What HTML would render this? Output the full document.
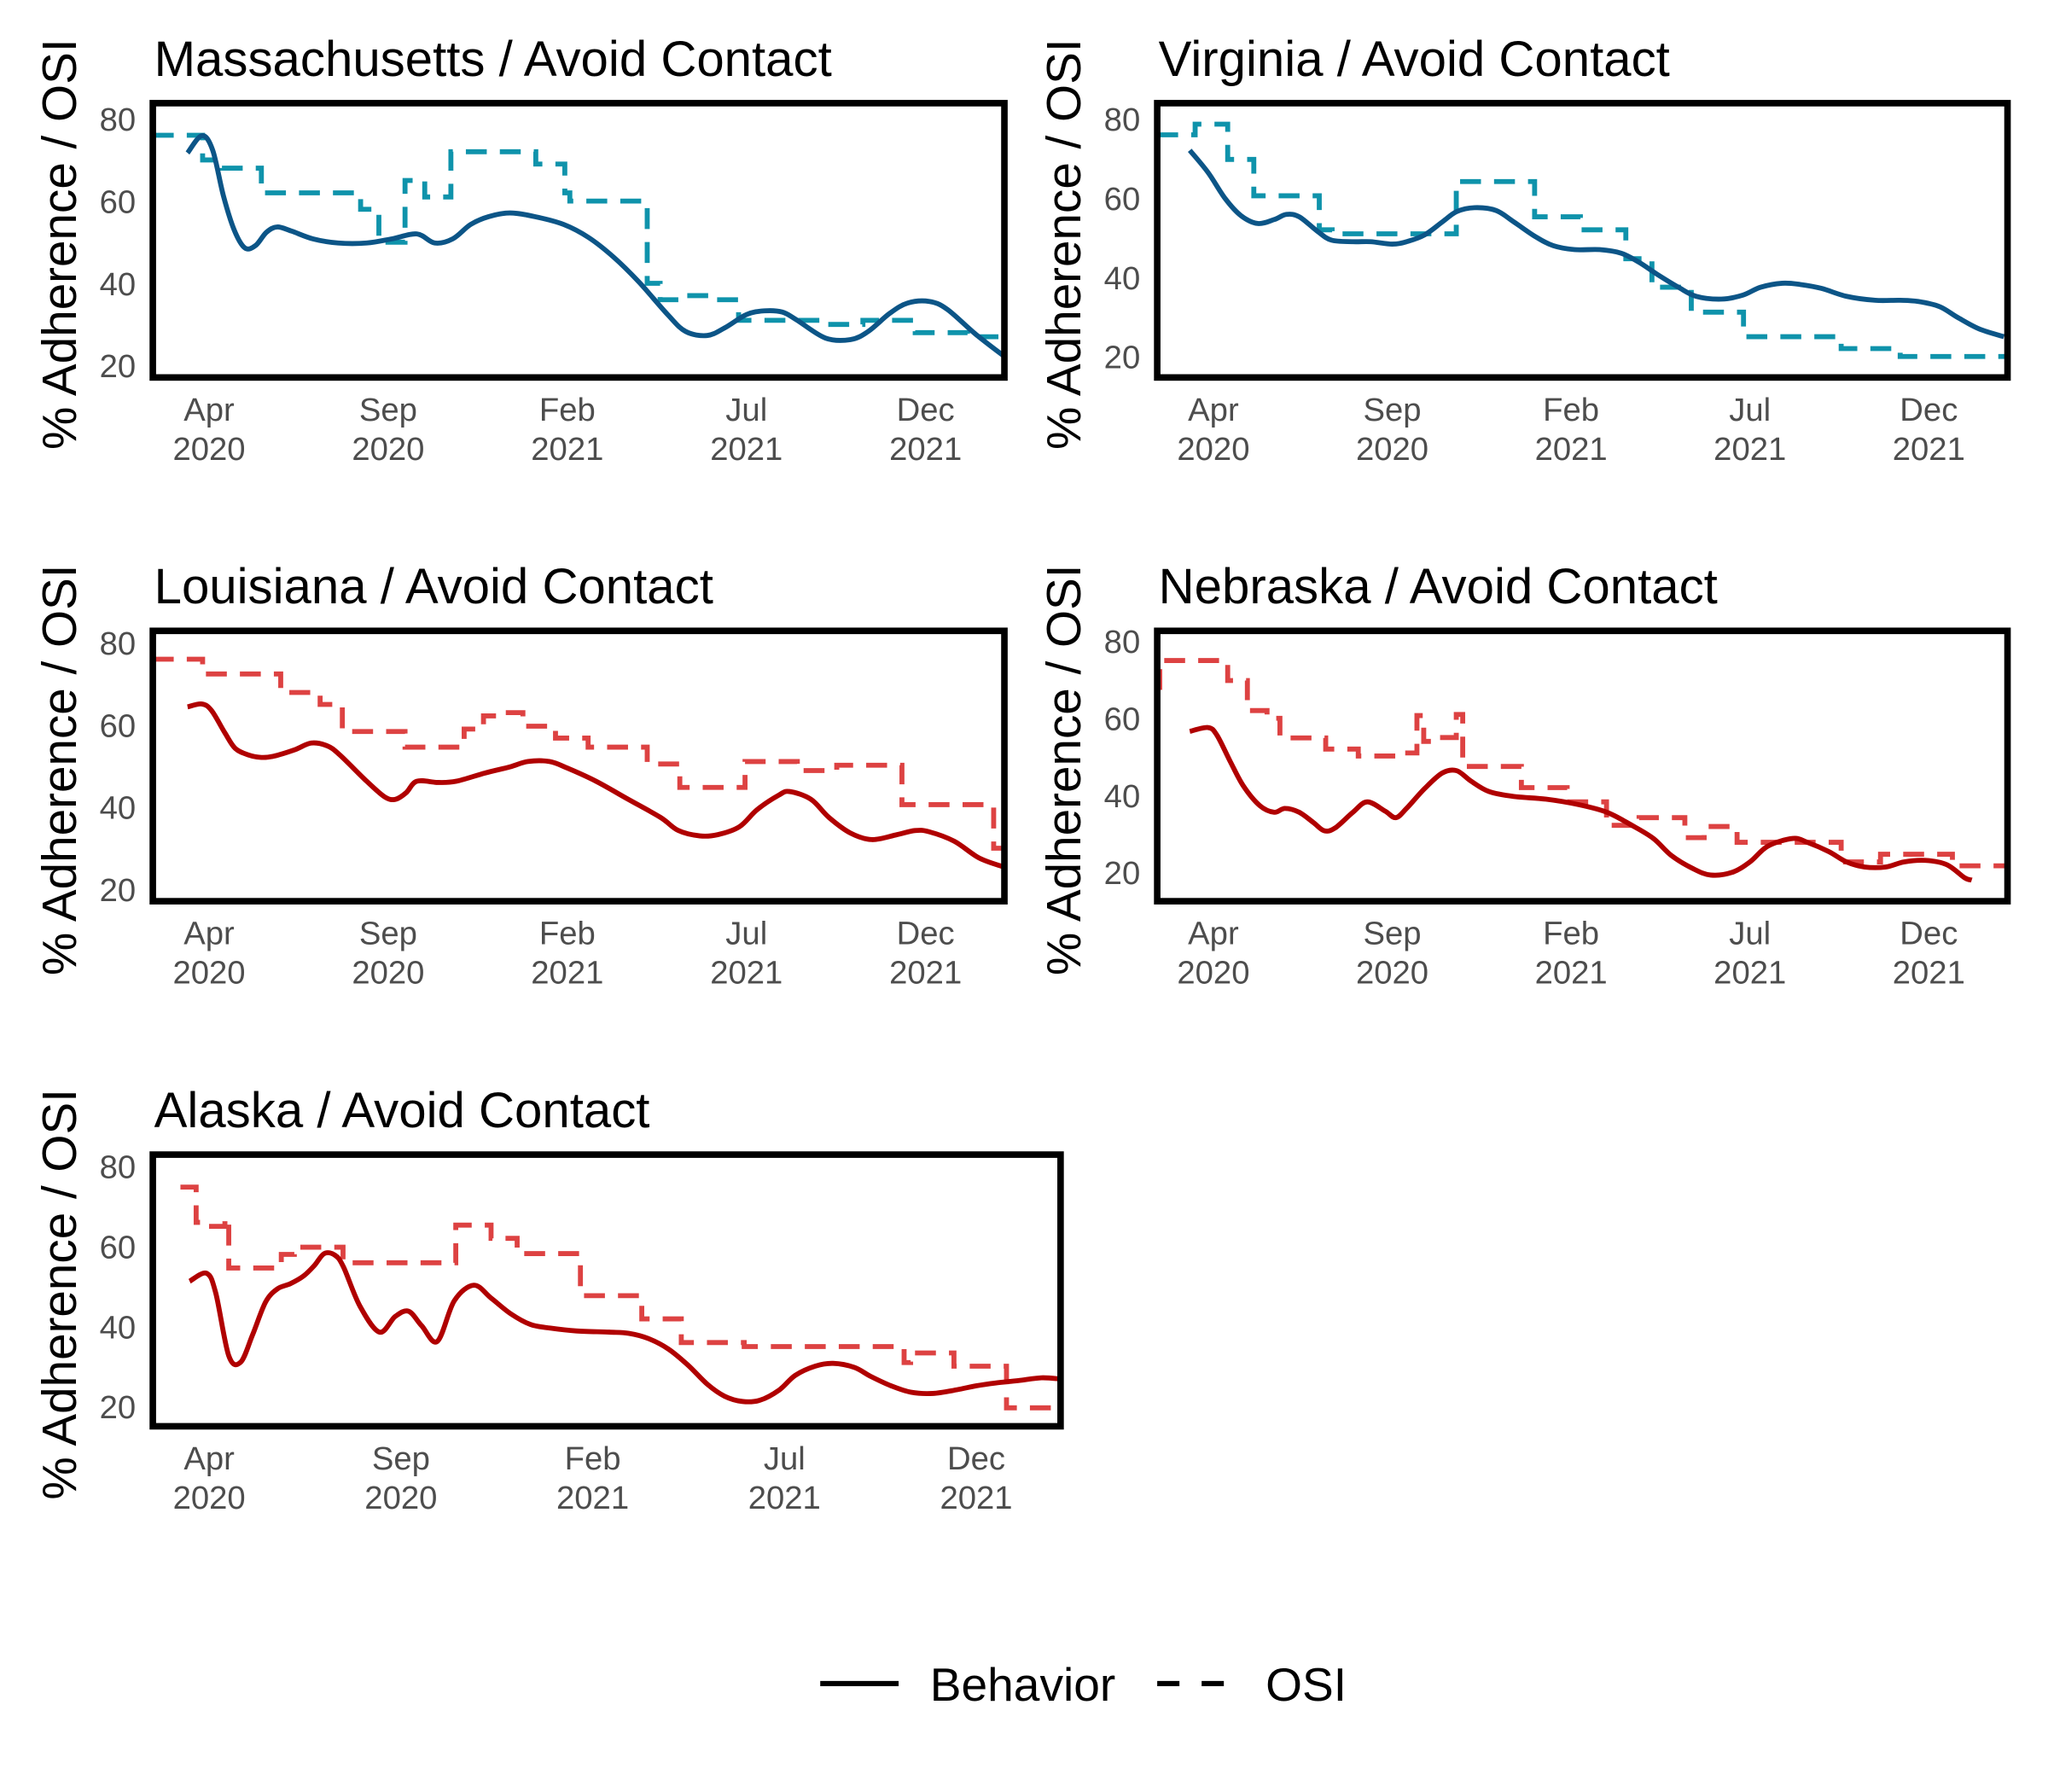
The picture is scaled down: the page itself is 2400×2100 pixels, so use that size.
<!DOCTYPE html>
<html><head><meta charset="utf-8"><style>
html,body{margin:0;padding:0;background:#fff}
svg{display:block}
text{font-family:"Liberation Sans",Arial,sans-serif}
</style></head><body>
<svg id="chart" width="2400" height="2100" viewBox="0 0 1568 1372" xmlns="http://www.w3.org/2000/svg">
<g>
<line x1="628" y1="1289" x2="688" y2="1289" stroke="#000" stroke-width="4"/>
<text x="712" y="1302" font-size="36">Behavior</text>
<line x1="886" y1="1289" x2="937" y2="1289" stroke="#000" stroke-width="4" stroke-dasharray="17,17"/>
<text x="969" y="1302" font-size="36">OSI</text>
</g>
</svg>
<script>
// ---- data (months since Apr 2020) ----
const tickMonths = [0, 5, 10, 15, 20];
const tickMonthLabels = ["Apr", "Sep", "Feb", "Jul", "Dec"];
const tickYearLabels = ["2020", "2020", "2021", "2021", "2021"];
const yTicks = [20, 40, 60, 80];

const maBehT = [-0.6,-0.2,0.1,0.4,0.7,1,1.3,1.6,1.9,2.3,2.9,3.6,4.4,5.1,5.8,6.3,6.8,7.3,7.8,8.4,9.1,9.9,10.6,11.3,12,12.8,13.3,13.9,14.4,15,15.5,16,16.4,17.2,17.9,18.4,19,19.5,20.1,20.6,21.4,22.2];
const maBehV = [71.7,75.9,72.4,61.3,53,48.6,49.2,52.4,53.7,52.7,50.8,49.8,49.8,50.8,52,49.8,50.8,54.3,56.2,57.1,56.2,54.3,51.1,46.3,40.3,32.4,28.3,27.3,29.2,32.4,33.3,33,31.1,26.7,26.3,28.3,32.7,35.2,35.6,33.7,27.6,22.2];
const maOsiT = [-1.57,-0.18,0.36,1.46,4.23,4.74,5.47,6.02,6.75,9.12,9.93,10.07,12.23,12.59,13.32,14.05,14.78,17.15,18.25,19.71,21.17,22.2];
const maOsiV = [76,70,68,62,58,50,65,61,72,69,62,60,40,36,37,36,31,30,31,28,27,27];

const vaBehT = [-0.66,-0.15,0.33,0.77,1.24,1.7,2.04,2.4,2.9,3.3,3.9,4.4,5,5.4,5.9,6.4,6.8,7.3,7.9,8.4,9,9.5,10.1,10.8,11.4,11.9,12.4,13,13.5,14.2,14.8,15.3,15.9,16.4,17,17.7,18.5,19.2,19.7,20.3,20.8,21.4,22.1];
const vaBehV = [72.1,66.5,59.9,55.6,53.6,54.6,55.9,55.3,51.7,49.4,49,49,48.4,49,50.7,54,56.6,57.6,56.9,54,50.3,48,47,47,46.1,43.8,40.8,37.5,35.2,34.5,35.5,37.5,38.5,38.2,37.2,35.2,34.2,34.2,33.9,32.6,29.9,27,25];
const vaOsiT = [-1.57,-0.51,0.4,1.13,2.96,3.32,6.79,8.98,10.26,11.53,12.26,13.36,14.82,17.55,19.2,22.2];
const vaOsiV = [76,78.7,69.8,60.6,52,51,64.2,55.3,52,44.7,37.5,31.2,25,22,20,20];

const laBehT = [-0.6,-0.2,0.07,0.44,0.73,1.1,1.46,1.8,2.4,2.85,3.3,3.65,4.4,4.9,5.2,5.5,5.8,6.4,6.9,7.7,8.4,8.9,9.5,10,10.8,11.7,12.6,13.1,13.7,14.2,14.8,15.3,15.9,16.2,16.8,17.3,17.9,18.5,19.2,19.7,20.1,20.8,21.5,22.2];
const laBehV = [64.4,65.1,63.5,58.1,54.3,52.7,52.1,52.4,54,55.6,54.9,52.7,46.3,42.5,41.9,43.5,46.3,46,46.3,48.3,49.8,51.1,51.1,49.5,46.3,41.9,37.5,34.3,33,33.3,35.2,39.4,42.9,43.8,41.9,37.5,33.7,32.1,33.3,34.3,34,31.7,27.6,25.4];
const laOsiT = [-1.57,-0.18,2.0,3.1,3.72,5.47,7.12,7.66,8.21,8.76,9.67,10.58,12.23,13.14,14.96,16.42,17.52,19.34,21.9,22.2];
const laOsiV = [76,72.4,67.9,65,58.4,54.6,59,62.2,63,59.7,56.8,54.6,50.5,44.8,51.1,48.9,50.2,40.6,30,30];

const neBehT = [-0.66,-0.15,0.1,0.47,0.84,1.3,1.7,2,2.4,2.8,3.1,3.4,3.9,4.3,4.8,5.1,5.4,5.9,6.4,6.8,7.2,7.7,8.4,9.3,10.2,11,11.7,12.3,12.8,13.4,13.9,14.5,15,15.5,16.2,16.6,17.2,17.7,18.2,18.8,19.3,19.9,20.5,21,21.2];
const neBehV = [56.6,57.6,55.6,48.8,42.4,37.3,35.6,36.6,35.6,32.9,30.8,31.5,35.6,38.3,35.9,34.2,36.6,41.7,45.8,46.4,43.7,41,39.7,39,37.6,35.6,32.2,28.8,24.4,21,19.3,20,22.7,26.8,28.8,27.8,25.4,22.7,21.4,21.4,22.7,23.1,22,18.6,18];
const neOsiT = [-1.57,-1.5,0.4,0.95,1.5,1.86,3.14,4.05,5.15,5.69,5.88,6.24,6.79,6.97,8.61,9.89,10.99,11.9,13.18,13.72,14.64,17.55,18.65,20.66,22.2];
const neOsiV = [68,75,69.8,62,60,54.9,52,50.2,51,60.7,54,55,61,47.5,42,38.3,32.2,34.2,29,31.9,27.8,22.7,24.7,21.7,21.7];

const akBehT = [-0.51,-0.07,0.17,0.51,0.82,1.13,1.47,1.78,2.12,2.46,2.74,3,3.28,3.5,3.93,4.44,4.85,5.2,5.54,5.95,6.39,6.9,7.35,7.86,8.38,8.9,9.57,10.43,10.94,11.45,11.97,12.48,13,13.44,13.9,14.36,14.87,15.28,15.8,16.27,16.82,17.26,17.78,18.3,18.87,19.49,20,20.5,21.1,21.7,22.2];
const akBehV = [51.3,53.3,48.4,32.7,31.1,37.9,46.1,49.4,50.7,52.6,55.2,58.2,57.8,54.9,45.1,38.6,42.5,43.8,40.2,36.3,46.4,50.3,47.1,43.2,40.5,39.6,38.9,38.6,38.3,37,34.4,30.4,25.5,22.6,21.3,21.6,24.2,27.8,30.1,30.8,29.8,27.5,25.2,23.6,23.3,24.2,25.2,25.9,26.5,27.2,26.9];
const akOsiT = [-0.75,-0.34,-0.07,0.41,0.51,1.88,2.22,3.49,6.43,7.35,8.03,9.68,11.28,12.31,13.95,18.12,18.29,19.42,20.79,21.81];
const akOsiV = [74.8,66,65,67,54.6,58,59.8,55.9,65.3,62,58.2,47.7,41.9,36,35,31,33.4,30.1,19.7,19.7];

const panels = [
  {name:"massachusetts", title:"Massachusetts / Avoid Contact", x0:117,x1:769,y0:79,y1:289, xd:[-1.57,22.2], yd:[17.1,83.8], bt:maBehT,bv:maBehV,ot:maOsiT,ov:maOsiV, bc:"#0c5587", oc:"#0f93ab"},
  {name:"virginia", title:"Virginia / Avoid Contact", x0:886,x1:1537,y0:79,y1:289, xd:[-1.57,22.2], yd:[14.7,84], bt:vaBehT,bv:vaBehV,ot:vaOsiT,ov:vaOsiV, bc:"#0c5587", oc:"#0f93ab"},
  {name:"louisiana", title:"Louisiana / Avoid Contact", x0:117,x1:769,y0:483,y1:690, xd:[-1.57,22.2], yd:[17.1,82.9], bt:laBehT,bv:laBehV,ot:laOsiT,ov:laOsiV, bc:"#b00000", oc:"#dd4242"},
  {name:"nebraska", title:"Nebraska / Avoid Contact", x0:886,x1:1537,y0:483,y1:690, xd:[-1.57,22.2], yd:[12.5,82.7], bt:neBehT,bv:neBehV,ot:neOsiT,ov:neOsiV, bc:"#b00000", oc:"#dd4242"},
  {name:"alaska", title:"Alaska / Avoid Contact", x0:117,x1:812,y0:884,y1:1092, xd:[-1.47,22.2], yd:[15.1,82.9], bt:akBehT,bv:akBehV,ot:akOsiT,ov:akOsiV, bc:"#b00000", oc:"#dd4242"}
];

const NS = "http://www.w3.org/2000/svg";
const svg = document.getElementById("chart");
function mk(tag, attrs, parent){ const e=document.createElementNS(NS,tag); for(const k in attrs) e.setAttribute(k,attrs[k]); parent.appendChild(e); return e; }

function smoothPath(pts){
  let d = `M${pts[0][0]},${pts[0][1]}`;
  for(let i=0;i<pts.length-1;i++){
    const p0 = pts[i-1]||pts[i], p1=pts[i], p2=pts[i+1], p3=pts[i+2]||p2;
    const c1x = p1[0]+(p2[0]-p0[0])/6, c1y = p1[1]+(p2[1]-p0[1])/6;
    const c2x = p2[0]-(p3[0]-p1[0])/6, c2y = p2[1]-(p3[1]-p1[1])/6;
    d += `C${c1x},${c1y} ${c2x},${c2y} ${p2[0]},${p2[1]}`;
  }
  return d;
}

panels.forEach((p,pi)=>{
  const g = mk("g",{},svg);
  
  
  const sx = m => p.x0 + (m - p.xd[0])/(p.xd[1]-p.xd[0])*(p.x1-p.x0);
  const sy = v => p.y1 - (v - p.yd[0])/(p.yd[1]-p.yd[0])*(p.y1-p.y0);
  const cp = mk("clipPath",{id:"clip"+pi},g);
  mk("rect",{x:p.x0,y:p.y0,width:p.x1-p.x0,height:p.y1-p.y0},cp);
  const t = mk("text",{x:p.x0+1,y:p.y0-21,"font-size":"38",fill:"#000"},g);
  t.textContent = p.title;
  
  
  const cy = (p.y0+p.y1)/2 + 3;
  const yt = mk("text",{x:0,y:0,"font-size":"37","text-anchor":"middle",transform:`translate(${p.x0-59},${cy}) rotate(-90)`},g);
  yt.textContent = "% Adherence / OSI";
  
  
  yTicks.forEach(v=>{
    const tt = mk("text",{x:p.x0-13,y:sy(v)+9,"font-size":"25","text-anchor":"end",fill:"#4d4d4d"},g);
    tt.textContent = String(v);
    
    
  });
  tickMonths.forEach((m,i)=>{
    const x = sx(m);
    const a = mk("text",{x:x,y:p.y1+33,"font-size":"25","text-anchor":"middle",fill:"#4d4d4d"},g);
    a.textContent = tickMonthLabels[i];
    
    
    const b = mk("text",{x:x,y:p.y1+63,"font-size":"25","text-anchor":"middle",fill:"#4d4d4d"},g);
    b.textContent = tickYearLabels[i];
    
    
  });
  let d = "";
  p.ot.forEach((m,i)=>{
    const x = sx(m), y = sy(p.ov[i]);
    if(i===0) d += `M${x},${y}`;
    else d += `H${x}V${y}`;
  });
  d += `H${p.x1}`;
  const osi = mk("path",{d:d,fill:"none",stroke:p.oc,"stroke-width":"3.8","stroke-dasharray":"16,10","clip-path":`url(#clip${pi})`},g);
  
  
  const pts = p.bt.map((m,i)=>[sx(m), sy(p.bv[i])]);
  const beh = mk("path",{d:smoothPath(pts),fill:"none",stroke:p.bc,"stroke-width":"3.8","stroke-linejoin":"round","clip-path":`url(#clip${pi})`},g);
  
  
  const fr = mk("rect",{x:p.x0,y:p.y0,width:p.x1-p.x0,height:p.y1-p.y0,fill:"none",stroke:"#000","stroke-width":"5"},g);
  
  
});
</script>
</body></html>
